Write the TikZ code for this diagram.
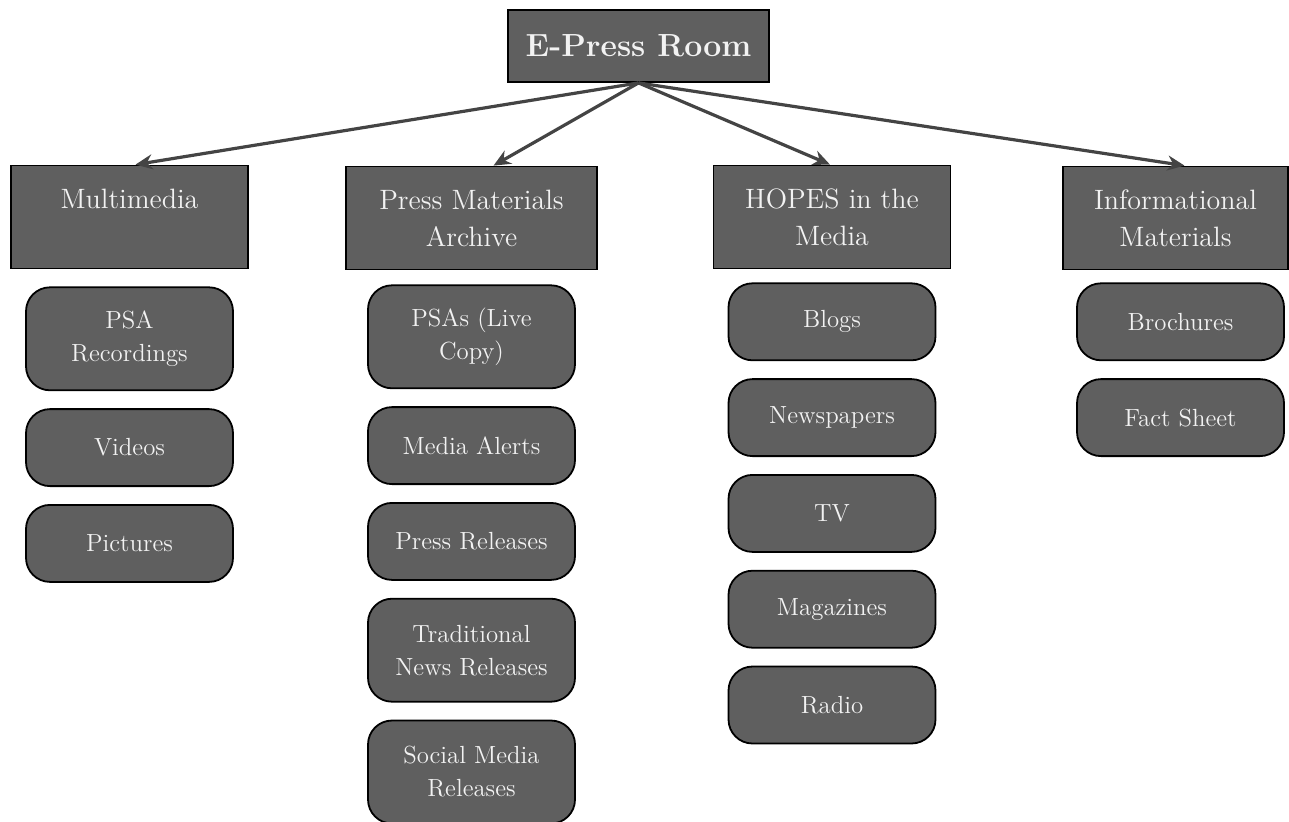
\documentclass[tikz,border=0pt]{standalone}
\usepackage{tikz}
\usetikzlibrary{arrows.meta, positioning}
\definecolor{boxgray}{RGB}{95,95,95}
\definecolor{arrowgray}{RGB}{68,68,68}
\definecolor{labelwhite}{RGB}{242,242,242}

\begin{document}
\begin{tikzpicture}[
    x=0.5pt, y=-0.5pt,
    node distance=8.5pt,
    base/.style={draw=black, fill=boxgray, text=labelwhite, line width=0.9pt,
                 align=center, inner sep=2pt},
    rootbox/.style={base, minimum width=130.5pt, minimum height=36pt,
                    font=\fontsize{16}{20}\selectfont\bfseries},
    catbox/.style={base, minimum width=118.5pt, minimum height=51.5pt,
                   font=\fontsize{14}{18.5}\selectfont},
    itembox/.style={base, rounded corners=12pt, minimum width=103.5pt,
                    minimum height=38.5pt, font=\fontsize{12.4}{16.5}\selectfont},
    tallbox/.style={itembox, minimum height=51.5pt},
    arr/.style={-{Stealth[length=8.5pt,width=7.5pt]}, line width=1.6pt, arrowgray}
  ]
  \useasboundingbox (0,0) rectangle (1289,821);

  % top and categories
  \node[rootbox] (root) at (638.5,46) {E-Press Room};
  \node[catbox] (multi) at (129.5,217) {Multimedia\\\phantom{M}};
  \node[catbox, minimum width=125.5pt] (press) at (471.5,218) {Press Materials\\Archive};
  \node[catbox] (hopes) at (832,217) {HOPES in the\\Media};
  \node[catbox, minimum width=112.5pt] (info) at (1175.5,218) {Informational\\Materials};

  % Multimedia
  \node[tallbox, below=8.5pt of multi] (psarec) {PSA\\Recordings};
  \node[itembox, below=of psarec] (videos) {Videos};
  \node[itembox, below=of videos] (pictures) {Pictures};

  % Press Materials Archive
  \node[tallbox, below=7pt of press] (psalive) {PSAs (Live\\Copy)};
  \node[itembox, below=of psalive] (alerts) {Media Alerts};
  \node[itembox, below=of alerts] (pressrel) {Press Releases};
  \node[tallbox, below=of pressrel] (tradnews) {Traditional\\News Releases};
  \node[tallbox, below=of tradnews] (socialrel) {Social Media\\Releases};

  % HOPES in the Media
  \node[itembox, below=6.5pt of hopes] (blogs) {Blogs};
  \node[itembox, below=of blogs] (papers) {Newspapers};
  \node[itembox, below=of papers] (tv) {TV};
  \node[itembox, below=of tv] (mags) {Magazines};
  \node[itembox, below=of mags] (radio) {Radio};

  % Informational Materials
  \node[itembox, below=6pt of info, xshift=2.5pt] (brochures) {Brochures};
  \node[itembox, below=of brochures] (facts) {Fact Sheet};

  \draw[arr] (root.south) -- ([xshift=3pt]multi.north);
  \draw[arr] (root.south) -- ([xshift=11pt]press.north);
  \draw[arr] (root.south) -- ([xshift=-1pt]hopes.north);
  \draw[arr] (root.south) -- ([xshift=4.5pt]info.north);
\end{tikzpicture}
\end{document}
